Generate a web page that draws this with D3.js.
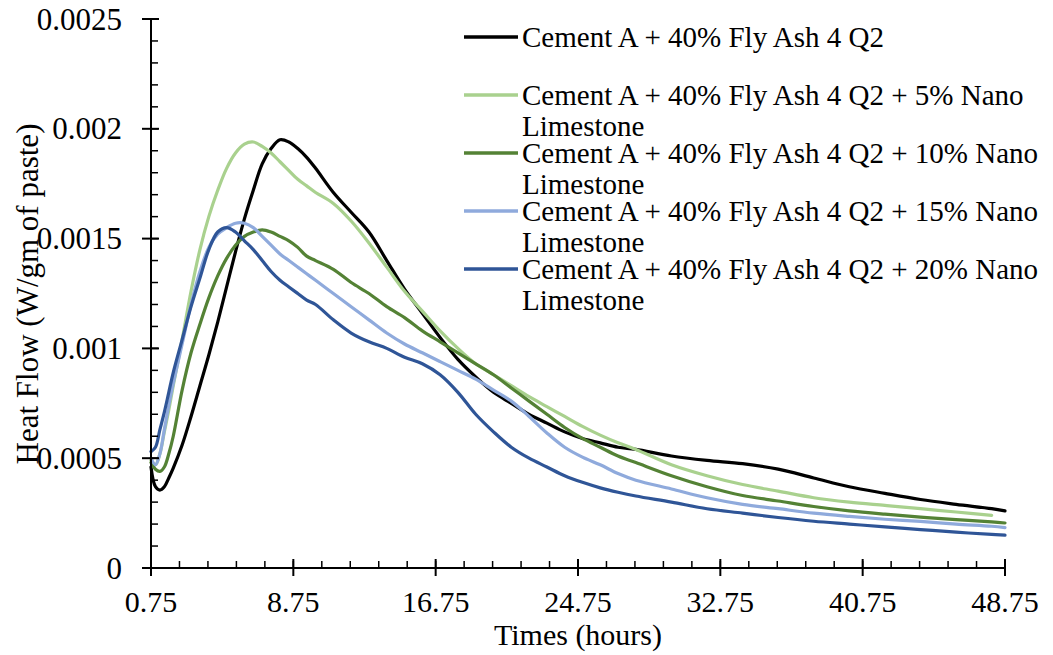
<!DOCTYPE html>
<html>
<head>
<meta charset="utf-8">
<script src="https://cdn.jsdelivr.net/npm/d3@7"></script>
<style>
  html, body { margin: 0; padding: 0; background: #fff; }
  svg { display: block; }
  text { font-family: "Liberation Serif", "Times New Roman", serif; fill: #000; }
</style>
</head>
<body>
<svg id="chart" width="1053" height="655"></svg>
<script>
// ---- data ----
const times = [0.75, 1, 1.25, 1.5, 1.75, 2, 2.5, 3, 3.5, 4, 4.5, 5, 5.5, 6, 6.5, 7, 7.5, 8, 8.5, 9, 9.5, 10,
  11, 12, 13, 14, 15, 16, 17, 18, 19, 20, 21, 22, 23, 24, 25, 26, 27, 28,
  30, 32, 34, 36, 38, 40, 42, 44, 46, 48, 48.75];

const cementA = [0.00046, 0.00037, 0.000355, 0.00037, 0.00041, 0.000455, 0.00056, 0.00069, 0.00083, 0.00097, 0.00112, 0.00128, 0.00144, 0.00159, 0.00172, 0.00184, 0.00191, 0.00195, 0.00194, 0.00191, 0.00187, 0.00182,
  0.00171, 0.00162, 0.00153, 0.0014, 0.00127, 0.00116, 0.00105, 0.00095, 0.00087, 0.0008, 0.00075, 0.0007, 0.00066, 0.00062, 0.00059, 0.00057, 0.00055, 0.00054,
  0.00051, 0.00049, 0.000475, 0.00045, 0.00041, 0.00037, 0.00034, 0.000312, 0.00029, 0.00027, 0.00026];

const nano5 = [0.00049, 0.00047, 0.00052, 0.00062, 0.00072, 0.00083, 0.00104, 0.00126, 0.00145, 0.0016, 0.00172, 0.00182, 0.00189, 0.00193, 0.00194, 0.00192, 0.00189, 0.00185, 0.00181, 0.00177, 0.00174, 0.00171,
  0.00166, 0.00158, 0.00148, 0.00137, 0.00126, 0.00117, 0.00108, 0.001, 0.00093, 0.00088, 0.00083, 0.00078, 0.000735, 0.00069, 0.000645, 0.000605, 0.00057, 0.00054,
  0.00047, 0.00042, 0.00038, 0.00035, 0.00032, 0.0003, 0.000285, 0.00027, 0.000255, 0.00024, null];

const nano10 = [0.00048, 0.00045, 0.00044, 0.00046, 0.00052, 0.0006, 0.00081, 0.00098, 0.00111, 0.00123, 0.00133, 0.00141, 0.00147, 0.00151, 0.00153, 0.00154, 0.00153, 0.00151, 0.00149, 0.00146, 0.00142, 0.0014,
  0.00136, 0.0013, 0.00125, 0.00119, 0.00114, 0.00108, 0.00103, 0.00098, 0.00093, 0.00088, 0.00082, 0.00076, 0.0007, 0.00064, 0.00059, 0.00055, 0.00051, 0.00048,
  0.00042, 0.00037, 0.00033, 0.000305, 0.00028, 0.00026, 0.000245, 0.000232, 0.00022, 0.00021, 0.000205];

const nano15 = [0.0005, 0.00047, 0.00052, 0.00063, 0.00074, 0.00084, 0.00102, 0.0012, 0.00135, 0.00146, 0.00152, 0.00155, 0.00157, 0.00157, 0.00155, 0.00151, 0.00147, 0.00143, 0.0014, 0.00137, 0.00134, 0.00131,
  0.00125, 0.00119, 0.00113, 0.00107, 0.00102, 0.00098, 0.00094, 0.0009, 0.00086, 0.00081, 0.00076, 0.00069, 0.000615, 0.00055, 0.000505, 0.00047, 0.00043, 0.0004,
  0.00036, 0.00032, 0.00029, 0.00027, 0.00025, 0.000235, 0.000222, 0.000212, 0.0002, 0.00019, 0.000184];

const nano20 = [0.00053, 0.00055, 0.00063, 0.00071, 0.0008, 0.00089, 0.00104, 0.00119, 0.00132, 0.00145, 0.00153, 0.00155, 0.00153, 0.00149, 0.00145, 0.0014, 0.00135, 0.00131, 0.00128, 0.00125, 0.00122, 0.0012,
  0.00113, 0.00107, 0.00103, 0.001, 0.00096, 0.00093, 0.00088, 0.0008, 0.0007, 0.00062, 0.00055, 0.0005, 0.00046, 0.00042, 0.00039, 0.000365, 0.000345, 0.000328,
  0.0003, 0.00027, 0.00025, 0.00023, 0.000213, 0.0002, 0.000187, 0.000175, 0.000163, 0.000153, 0.00015];

const seriesNames = [
  ["Cement A + 40% Fly Ash 4 Q2"],
  ["Cement A + 40% Fly Ash 4 Q2 + 5% Nano", "Limestone"],
  ["Cement A + 40% Fly Ash 4 Q2 + 10% Nano", "Limestone"],
  ["Cement A + 40% Fly Ash 4 Q2 + 15% Nano", "Limestone"],
  ["Cement A + 40% Fly Ash 4 Q2 + 20% Nano", "Limestone"]
];
const seriesValues = [cementA, nano5, nano10, nano15, nano20];
const seriesColors = ["#000000", "#A9D18E", "#548235", "#8FAADC", "#2F5597"];

const xTickValues = [0.75, 8.75, 16.75, 24.75, 32.75, 40.75, 48.75];
const yTickValues = [0, 0.0005, 0.001, 0.0015, 0.002, 0.0025];
const yTickLabels = ["0", "0.0005", "0.001", "0.0015", "0.002", "0.0025"];
const xTitle = "Times (hours)";
const yTitle = "Heat Flow (W/gm of paste)";

// ---- layout ----
const svg = d3.select("#chart");
const x = d3.scaleLinear().domain([0.75, 48.75]).range([151, 1005]);
const y = d3.scaleLinear().domain([0, 0.0025]).range([568, 19]);

const axisColor = "#000";
const g = svg.append("g");

// series lines
const line = d3.line()
  .defined(d => d[1] != null)
  .x(d => x(d[0]))
  .y(d => y(d[1]))
  .curve(d3.curveCatmullRom.alpha(0.5));

seriesValues.forEach((vals, i) => {
  const pts = times.map((t, k) => [t, vals[k]]);
  g.append("path")
    .datum(pts)
    .attr("fill", "none")
    .attr("stroke", seriesColors[i])
    .attr("stroke-width", 3.2)
    .attr("stroke-linejoin", "round")
    .attr("stroke-linecap", "round")
    .attr("d", line);
});

// Y axis
const yAxis = svg.append("g");
yAxis.append("line")
  .attr("x1", x(0.75)).attr("x2", x(0.75))
  .attr("y1", y(0)).attr("y2", y(0.0025))
  .attr("stroke", axisColor).attr("stroke-width", 2);
const yMinor = d3.range(0, 0.00251, 0.0001);
yAxis.selectAll(".yminor").data(yMinor).join("line")
  .attr("x1", x(0.75)).attr("x2", x(0.75) + 7)
  .attr("y1", d => y(d)).attr("y2", d => y(d))
  .attr("stroke", axisColor).attr("stroke-width", 1.5);
yAxis.selectAll(".ymajor").data(yTickValues).join("line")
  .attr("x1", x(0.75) - 9).attr("x2", x(0.75) + 8)
  .attr("y1", d => y(d)).attr("y2", d => y(d))
  .attr("stroke", axisColor).attr("stroke-width", 2);
yAxis.selectAll(".ylab").data(yTickValues).join("text")
  .attr("x", 122)
  .attr("y", d => y(d))
  .attr("dy", "0.34em")
  .attr("text-anchor", "end")
  .style("font-size", "31px")
  .text((d, i) => yTickLabels[i]);

// X axis
const xAxis = svg.append("g");
xAxis.append("line")
  .attr("x1", x(0.75)).attr("x2", x(48.75))
  .attr("y1", y(0)).attr("y2", y(0))
  .attr("stroke", axisColor).attr("stroke-width", 2);
const xMinor = d3.range(0, 31).map(k => 0.75 + k * 1.6);
xAxis.selectAll(".xminor").data(xMinor).join("line")
  .attr("x1", d => x(d)).attr("x2", d => x(d))
  .attr("y1", y(0)).attr("y2", y(0) - 7)
  .attr("stroke", axisColor).attr("stroke-width", 1.5);
xAxis.selectAll(".xmajor").data(xTickValues).join("line")
  .attr("x1", d => x(d)).attr("x2", d => x(d))
  .attr("y1", y(0) - 9).attr("y2", y(0) + 8)
  .attr("stroke", axisColor).attr("stroke-width", 2);
xAxis.selectAll(".xlab").data(xTickValues).join("text")
  .attr("x", d => x(d))
  .attr("y", 612)
  .attr("text-anchor", "middle")
  .style("font-size", "30px")
  .text(d => d.toFixed(2));

// titles
svg.append("text")
  .attr("x", 578).attr("y", 645)
  .attr("text-anchor", "middle")
  .style("font-size", "30px")
  .text(xTitle);
svg.append("text")
  .attr("transform", "translate(38,294) rotate(-90)")
  .attr("text-anchor", "middle")
  .style("font-size", "31px")
  .text(yTitle);

// legend
const legendY = [37, 95, 153, 211, 269];
const legend = svg.append("g");
seriesNames.forEach((lines, i) => {
  const ly = legendY[i];
  legend.append("line")
    .attr("x1", 464).attr("x2", 518)
    .attr("y1", ly).attr("y2", ly)
    .attr("stroke", seriesColors[i]).attr("stroke-width", 3.5);
  const t = legend.append("text")
    .attr("x", 522).attr("y", ly + 10)
    .style("font-size", "29px");
  lines.forEach((s, j) => {
    t.append("tspan").attr("x", 522).attr("dy", j === 0 ? 0 : 31).text(s);
  });
});
</script>
</body>
</html>
